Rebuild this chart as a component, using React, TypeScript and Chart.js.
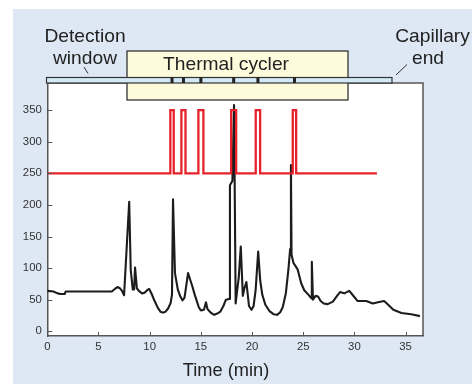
import React, { useEffect, useRef } from "react";
import { Chart, registerables } from "chart.js";

Chart.register(...registerables);

// Black trace (electropherogram)
const traceTimes = [
  0, 0.6, 1.0, 1.3, 1.7, 1.8, 6.3, 6.6, 6.85, 7.1, 7.3, 7.5, 8.0, 8.15, 8.35, 8.48, 8.57, 8.75, 9.0, 9.25,
  9.5, 9.75, 9.95, 10.2, 10.45, 10.8, 11.05, 11.3, 11.55, 11.8, 12.05, 12.18, 12.28, 12.47, 12.75, 13.0, 13.2, 13.4, 13.6, 13.75,
  13.95, 14.15, 14.4, 14.6, 14.8, 15.0, 15.3, 15.5, 15.65, 16.0, 16.3, 16.6, 16.9, 17.2, 17.45, 17.75, 17.84, 18.08, 18.24, 18.4,
  18.55, 18.7, 18.9, 19.1, 19.25, 19.45, 19.7, 19.95, 20.15, 20.35, 20.6, 20.8, 21.0, 21.3, 21.7, 22.1, 22.45, 22.75, 23.0, 23.3,
  23.55, 23.72, 23.8, 23.86, 24.05, 24.25, 24.45, 24.8, 25.1, 25.5, 25.8, 25.84, 25.95, 26.2, 26.45, 26.7, 27.0, 27.4, 27.9, 28.3,
  28.6, 29.0, 29.5, 29.85, 30.3, 30.8, 31.15, 31.8, 32.3, 32.9, 33.3, 33.8, 34.6, 35.55, 36.4,
];
const traceValues = [
  64, 63, 60, 59, 59, 63, 63, 67, 70, 68, 64, 57, 205, 97, 66, 66, 101, 68, 63, 60,
  61, 65, 67, 59, 49, 37, 31, 29.5, 31, 36, 45, 58, 209, 92, 66, 55, 49, 53, 75, 92,
  82, 72, 58, 48, 38, 33, 34, 46, 35, 29, 26, 28, 31, 40, 50, 51, 231, 238, 358, 44,
  65, 85, 134, 56, 68, 78, 40, 34, 40, 65, 126, 80, 58, 42, 32, 27, 26, 30, 38, 60,
  97, 130, 263, 121, 108, 103, 98, 76, 65, 58, 52, 110, 50, 56, 55, 48, 44, 43, 47, 56,
  62, 60, 64, 57, 48, 48, 48, 44, 46, 48, 42, 34, 29, 27, 24,
];

// Red temperature trace (thermal cycling pulses)
const pulseStarts = [12.02, 13.1, 14.76, 17.96, 20.36, 23.98];
const pulseEnds = [12.35, 13.5, 15.25, 18.45, 20.79, 24.31];
const pulseLow = 250;
const pulseHigh = 350;
const pulseTraceStart = 0;
const pulseTraceEnd = 32.2;

// Tick labels
const xTicks = [0, 5, 10, 15, 20, 25, 30, 35];
const yTicks = [0, 50, 100, 150, 200, 250, 300, 350];

const REGULAR = "'Liberation Sans', Arial, sans-serif";
const NARROW = "'Liberation Sans Narrow', 'Arial Narrow', 'Liberation Sans', Arial, sans-serif";

function pickFamily(): string {
  const c = document.createElement("canvas").getContext("2d");
  if (!c) return REGULAR;
  c.font = "20px 'Liberation Sans Narrow', monospace";
  const a = c.measureText("Thermal cycler").width;
  c.font = "20px monospace";
  const b = c.measureText("Thermal cycler").width;
  return Math.abs(a - b) > 0.5 ? NARROW : REGULAR;
}

function fitSize(family: string, text: string, target: number): number {
  const c = document.createElement("canvas").getContext("2d");
  if (!c) return 18;
  c.font = `100px ${family}`;
  const w = c.measureText(text).width;
  return (100 * target) / w;
}

function buildPulse() {
  const pts: { x: number; y: number }[] = [{ x: pulseTraceStart, y: pulseLow }];
  pulseStarts.forEach((s, i) => {
    const e = pulseEnds[i];
    pts.push({ x: s, y: pulseLow }, { x: s, y: pulseHigh }, { x: e, y: pulseHigh }, { x: e, y: pulseLow });
  });
  pts.push({ x: pulseTraceEnd, y: pulseLow });
  return pts;
}

function makeDecor(family: string) {
  const labelSize = Math.min(23, fitSize(family, "Thermal cycler", 126));
  const titleSize = Math.min(22, fitSize(family, "Time (min)", 86.6));
  return {
    id: "decor",
    beforeDraw(chart: any) {
      const { ctx, chartArea } = chart;
      ctx.save();
      ctx.fillStyle = "#ffffff";
      ctx.fillRect(0, 0, chart.width, chart.height);
      ctx.fillStyle = "#dee8f4";
      ctx.fillRect(13, 9, chart.width - 13, chart.height - 9);
      ctx.fillStyle = "#ffffff";
      ctx.fillRect(chartArea.left, chartArea.top, chartArea.right - chartArea.left, chartArea.bottom - chartArea.top);
      ctx.restore();
    },
    afterDraw(chart: any) {
      const { ctx, chartArea } = chart;
      const xs = chart.scales.x;
      const ys = chart.scales.y;
      ctx.save();
      ctx.strokeStyle = "#555555";
      ctx.lineWidth = 1.5;
      ctx.beginPath();
      ctx.moveTo(chartArea.left, chartArea.top);
      ctx.lineTo(chartArea.right, chartArea.top);
      ctx.lineTo(chartArea.right, chartArea.bottom);
      ctx.stroke();
      ctx.lineWidth = 1;
      ctx.beginPath();
      yTicks.forEach((v) => {
        const py = Math.round(ys.getPixelForValue(v)) + 0.5;
        ctx.moveTo(chartArea.left, py);
        ctx.lineTo(chartArea.left + 5, py);
      });
      xTicks.forEach((v) => {
        const px = Math.round(xs.getPixelForValue(v)) + 0.5;
        ctx.moveTo(px, chartArea.bottom);
        ctx.lineTo(px, chartArea.bottom - 4);
      });
      ctx.stroke();

      const boxL = 127, boxR = 348, boxT = 51, boxB = 100;
      ctx.fillStyle = "#fefbdc";
      ctx.fillRect(boxL, boxT, boxR - boxL, boxB - boxT);
      ctx.strokeStyle = "#333333";
      ctx.lineWidth = 1.3;
      ctx.strokeRect(boxL, boxT, boxR - boxL, boxB - boxT);

      const barL = 46.5, barR = 392, barT = 77.5, barB = 83;
      ctx.fillStyle = "#d3eaf6";
      ctx.fillRect(barL, barT, barR - barL, barB - barT);
      ctx.strokeStyle = "#333333";
      ctx.lineWidth = 1.2;
      ctx.strokeRect(barL, barT, barR - barL, barB - barT);
      ctx.fillStyle = "#222222";
      pulseStarts.forEach((s, i) => {
        const c = xs.getPixelForValue((s + pulseEnds[i]) / 2);
        ctx.fillRect(c - 1.5, barT, 3, barB - barT);
      });

      ctx.strokeStyle = "#333333";
      ctx.lineWidth = 1;
      ctx.beginPath();
      ctx.moveTo(84, 67);
      ctx.lineTo(88, 73.5);
      ctx.moveTo(396, 75);
      ctx.lineTo(407, 64.5);
      ctx.stroke();

      ctx.fillStyle = "#222222";
      ctx.font = `${labelSize}px ${family}`;
      ctx.textAlign = "center";
      ctx.textBaseline = "alphabetic";
      ctx.fillText("Detection", 85, 41.5);
      ctx.fillText("window", 85, 63.5);
      ctx.fillText("Thermal cycler", 226, 69.5);
      ctx.fillText("Capillary", 432.5, 42);
      ctx.fillText("end", 428, 63.5);
      ctx.font = `${titleSize}px ${family}`;
      ctx.fillText("Time (min)", 226, 376);
      ctx.restore();
    },
  };
}

export default function App() {
  const ref = useRef<HTMLCanvasElement | null>(null);
  useEffect(() => {
    if (!ref.current) return;
    const family = pickFamily();
    const tickSize = Math.min(13.5, fitSize(family, "350", 19));
    const chart = new Chart(ref.current, {
      type: "line",
      data: {
        datasets: [
          {
            data: buildPulse(),
            borderColor: "#e8222b",
            borderWidth: 2.3,
            pointRadius: 0,
            tension: 0,
            fill: false,
          },
          {
            data: traceTimes.map((t, i) => ({ x: t, y: traceValues[i] })),
            borderColor: "#1c1c1c",
            borderWidth: 2.1,
            pointRadius: 0,
            tension: 0,
            fill: false,
            borderJoinStyle: "round",
          },
        ],
      },
      options: {
        responsive: false,
        animation: false,
        events: [],
        layout: { padding: { left: 0, right: 49, top: 83, bottom: 0 } },
        plugins: { legend: { display: false }, tooltip: { enabled: false }, title: { display: false } },
        scales: {
          x: {
            type: "linear",
            min: 0,
            max: 36.7,
            afterBuildTicks: (axis: any) => {
              axis.ticks = xTicks.map((v) => ({ value: v }));
            },
            afterFit: (axis: any) => {
              axis.height = 48;
            },
            grid: { display: true, drawOnChartArea: false, drawTicks: false },
            border: { display: true, color: "#555555", width: 1.5 },
            ticks: { padding: 4, color: "#333333", font: { family, size: tickSize }, maxRotation: 0, autoSkip: false },
          },
          y: {
            type: "linear",
            min: -7.5,
            max: 393,
            afterBuildTicks: (axis: any) => {
              axis.ticks = yTicks.map((v) => ({ value: v }));
            },
            afterFit: (axis: any) => {
              axis.width = 47.3;
            },
            grid: { display: true, drawOnChartArea: false, drawTicks: false },
            border: { display: true, color: "#555555", width: 1.5 },
            ticks: { padding: 5.5, color: "#333333", font: { family, size: tickSize }, autoSkip: false },
          },
        },
      },
      plugins: [makeDecor(family)],
    });
    return () => chart.destroy();
  }, []);
  return (
    <div style={{ position: "fixed", left: 0, top: 0, width: 472, height: 384 }}>
      <canvas ref={ref} width={472} height={384} style={{ display: "block", width: 472, height: 384 }} />
    </div>
  );
}
